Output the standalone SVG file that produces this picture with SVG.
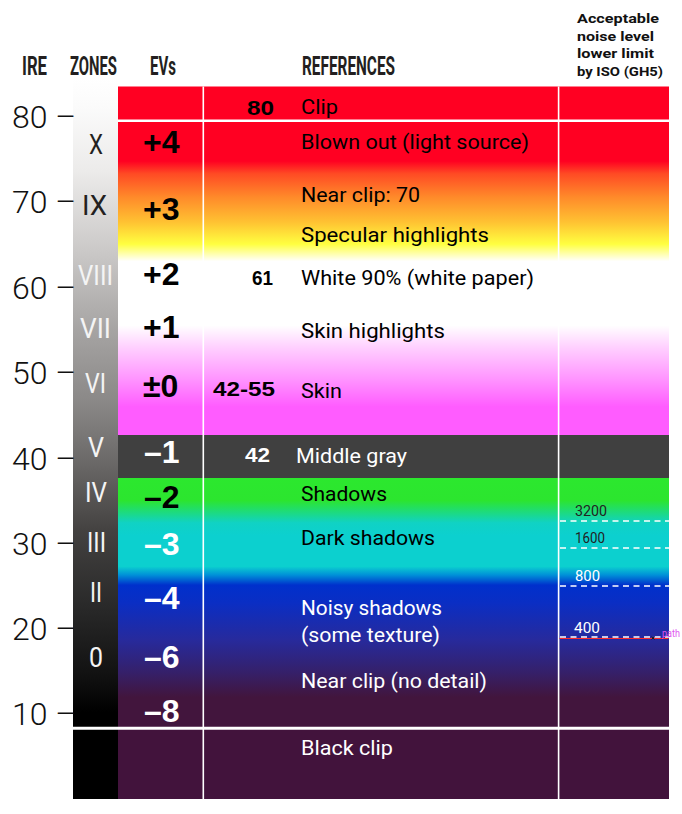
<svg xmlns="http://www.w3.org/2000/svg" width="682" height="814" viewBox="0 0 682 814">
<style>
.hdr{font-family:Roboto,"Liberation Sans",sans-serif;font-weight:700;font-size:26px;fill:#231f20}
.iso-h{font-family:Roboto,"Liberation Sans",sans-serif;font-weight:700;font-size:13.5px;fill:#111}
.ire{font-family:Roboto,"Liberation Sans",sans-serif;font-weight:300;font-size:32px;fill:#111}
.zone{font-family:Roboto,"Liberation Sans",sans-serif;font-size:27px;fill:#f4f4f4}
.zone.dk{fill:#231f20}
.ev{font-family:"Liberation Sans",Arial,sans-serif;font-weight:700;font-size:32px;fill:#000}
.ev.w{fill:#fff}
.num{font-family:"Liberation Sans",Arial,sans-serif;font-weight:700;font-size:21px;fill:#000}
.num.w{fill:#fff}
.ref{font-family:Roboto,"Liberation Sans",sans-serif;font-size:20px;fill:#000}
.ref.w{fill:#fff}
.iso{font-family:Roboto,"Liberation Sans",sans-serif;font-size:14.5px;fill:#222}
.iso.w{fill:#fff}
.sep{stroke:#fff;fill:none}
.dash{stroke:#fff;stroke-width:1.5;stroke-dasharray:6 4.5;fill:none}
</style>
<defs>
<linearGradient id="gZones" gradientUnits="userSpaceOnUse" x1="0" y1="77" x2="0" y2="799">
<stop offset="0" stop-color="#ffffff"/>
<stop offset="0.04" stop-color="#fbfbfb"/>
<stop offset="0.13" stop-color="#ecebea"/>
<stop offset="0.24" stop-color="#cbc9c8"/>
<stop offset="0.35" stop-color="#a6a4a3"/>
<stop offset="0.45" stop-color="#8a8887"/>
<stop offset="0.53" stop-color="#6c6a69"/>
<stop offset="0.63" stop-color="#434140"/>
<stop offset="0.73" stop-color="#2a2a2a"/>
<stop offset="0.83" stop-color="#111111"/>
<stop offset="0.88" stop-color="#000000"/>
<stop offset="1" stop-color="#000000"/>
</linearGradient>
<linearGradient id="gTop" gradientUnits="userSpaceOnUse" x1="0" y1="122" x2="0" y2="435">
<stop offset="0" stop-color="#ff0022"/>
<stop offset="0.125" stop-color="#ff0022"/>
<stop offset="0.165" stop-color="#ff4a24"/>
<stop offset="0.24" stop-color="#ff8a2a"/>
<stop offset="0.32" stop-color="#ffc232"/>
<stop offset="0.39" stop-color="#ffff40"/>
<stop offset="0.445" stop-color="#ffffff"/>
<stop offset="0.65" stop-color="#ffffff"/>
<stop offset="0.72" stop-color="#ffd0ff"/>
<stop offset="0.82" stop-color="#ff95ff"/>
<stop offset="0.91" stop-color="#ff5cff"/>
<stop offset="1" stop-color="#ff5cff"/>
</linearGradient>
<linearGradient id="gLow" gradientUnits="userSpaceOnUse" x1="0" y1="478" x2="0" y2="727">
<stop offset="0" stop-color="#2ce82e"/>
<stop offset="0.09" stop-color="#2ce52f"/>
<stop offset="0.18" stop-color="#10d2c4"/>
<stop offset="0.23" stop-color="#0cd0cf"/>
<stop offset="0.355" stop-color="#0cd0cf"/>
<stop offset="0.39" stop-color="#0090d8"/>
<stop offset="0.43" stop-color="#0030cc"/>
<stop offset="0.5" stop-color="#0a2ec4"/>
<stop offset="0.65" stop-color="#272a9c"/>
<stop offset="0.78" stop-color="#35206a"/>
<stop offset="0.88" stop-color="#42153d"/>
<stop offset="1" stop-color="#42153d"/>
</linearGradient>
</defs>

<g id="header">
<text class="hdr" x="22" y="75" textLength="25" lengthAdjust="spacingAndGlyphs">IRE</text>
<text class="hdr" x="70" y="75" textLength="47" lengthAdjust="spacingAndGlyphs">ZONES</text>
<text class="hdr" x="150" y="75" textLength="26" lengthAdjust="spacingAndGlyphs">EVs</text>
<text class="hdr" x="302" y="75" textLength="93" lengthAdjust="spacingAndGlyphs">REFERENCES</text>
<text class="iso-h" x="577" y="23" textLength="82" lengthAdjust="spacingAndGlyphs">Acceptable</text>
<text class="iso-h" x="577" y="41" textLength="77" lengthAdjust="spacingAndGlyphs">noise level</text>
<text class="iso-h" x="577" y="58" textLength="77" lengthAdjust="spacingAndGlyphs">lower limit</text>
<text class="iso-h" x="577" y="76" textLength="86" lengthAdjust="spacingAndGlyphs">by ISO (GH5)</text>
</g>

<g id="bands">
<rect x="73" y="77" width="45" height="722" fill="url(#gZones)"/>
<rect x="118" y="86.5" width="551" height="33.5" fill="#ff0022"/>
<rect x="118" y="122" width="551" height="313" fill="url(#gTop)"/>
<rect x="118" y="435" width="551" height="43" fill="#404040"/>
<rect x="118" y="478" width="551" height="250" fill="url(#gLow)"/>
<rect x="118" y="728" width="551" height="71" fill="#42133c"/>
</g>

<g id="separators">
<line class="sep" x1="118" y1="120.8" x2="669" y2="120.8" stroke-width="2.6"/>
<line class="sep" x1="73" y1="728.3" x2="669" y2="728.3" stroke-width="3"/>
<line class="sep" x1="203.3" y1="86.5" x2="203.3" y2="799" stroke-width="1.6"/>
<line class="sep" x1="558.6" y1="86.5" x2="558.6" y2="799" stroke-width="1.6"/>
</g>

<g id="ire-scale">
<text class="ire" x="12" y="128">80 –</text>
<text class="ire" x="12" y="213.3">70 –</text>
<text class="ire" x="12" y="298.6">60 –</text>
<text class="ire" x="12" y="384">50 –</text>
<text class="ire" x="12" y="469.5">40 –</text>
<text class="ire" x="12" y="554.7">30 –</text>
<text class="ire" x="12" y="640">20 –</text>
<text class="ire" x="12" y="725">10 –</text>
</g>

<g id="zones">
<text class="zone dk" x="89" y="154" textLength="14" lengthAdjust="spacingAndGlyphs">X</text>
<text class="zone dk" x="82" y="215" textLength="25" lengthAdjust="spacingAndGlyphs">IX</text>
<text class="zone" x="78" y="285" textLength="35" lengthAdjust="spacingAndGlyphs">VIII</text>
<text class="zone" x="80" y="338" textLength="31" lengthAdjust="spacingAndGlyphs">VII</text>
<text class="zone" x="85" y="393" textLength="21" lengthAdjust="spacingAndGlyphs">VI</text>
<text class="zone" x="88" y="457" textLength="16" lengthAdjust="spacingAndGlyphs">V</text>
<text class="zone" x="85" y="502" textLength="22" lengthAdjust="spacingAndGlyphs">IV</text>
<text class="zone" x="87" y="552" textLength="19" lengthAdjust="spacingAndGlyphs">III</text>
<text class="zone" x="90" y="602" textLength="12" lengthAdjust="spacingAndGlyphs">II</text>
<text class="zone" x="89" y="667" textLength="14" lengthAdjust="spacingAndGlyphs">0</text>
</g>

<g id="evs">
<text class="ev" x="143" y="153">+4</text>
<text class="ev" x="143" y="220">+3</text>
<text class="ev" x="143" y="285">+2</text>
<text class="ev" x="143" y="338">+1</text>
<text class="ev" x="143" y="397">±0</text>
<text class="ev w" x="144" y="463">–1</text>
<text class="ev" x="144" y="508">–2</text>
<text class="ev w" x="144" y="555">–3</text>
<text class="ev w" x="144" y="609">–4</text>
<text class="ev w" x="144" y="668">–6</text>
<text class="ev w" x="144" y="722">–8</text>
</g>

<g id="ire-values">
<text class="num" x="247" y="115" textLength="27" lengthAdjust="spacingAndGlyphs">80</text>
<text class="num" x="252" y="285" textLength="21" lengthAdjust="spacingAndGlyphs">61</text>
<text class="num" x="213" y="396" textLength="62" lengthAdjust="spacingAndGlyphs">42-55</text>
<text class="num w" x="245" y="462" textLength="25" lengthAdjust="spacingAndGlyphs">42</text>
</g>

<g id="references">
<text class="ref" x="301" y="114" textLength="37" lengthAdjust="spacingAndGlyphs">Clip</text>
<text class="ref" x="301" y="149" textLength="228" lengthAdjust="spacingAndGlyphs">Blown out (light source)</text>
<text class="ref" x="301" y="202" textLength="119" lengthAdjust="spacingAndGlyphs">Near clip: 70</text>
<text class="ref" x="301" y="242" textLength="188" lengthAdjust="spacingAndGlyphs">Specular highlights</text>
<text class="ref" x="301" y="285" textLength="233" lengthAdjust="spacingAndGlyphs">White 90% (white paper)</text>
<text class="ref" x="301" y="338" textLength="144" lengthAdjust="spacingAndGlyphs">Skin highlights</text>
<text class="ref" x="301" y="398" textLength="41" lengthAdjust="spacingAndGlyphs">Skin</text>
<text class="ref w" x="296" y="463" textLength="111" lengthAdjust="spacingAndGlyphs">Middle gray</text>
<text class="ref" x="301" y="501" textLength="86" lengthAdjust="spacingAndGlyphs">Shadows</text>
<text class="ref" x="301" y="545" textLength="134" lengthAdjust="spacingAndGlyphs">Dark shadows</text>
<text class="ref w" x="301" y="615" textLength="141" lengthAdjust="spacingAndGlyphs">Noisy shadows</text>
<text class="ref w" x="301" y="642" textLength="139" lengthAdjust="spacingAndGlyphs">(some texture)</text>
<text class="ref w" x="301" y="688" textLength="186" lengthAdjust="spacingAndGlyphs">Near clip (no detail)</text>
<text class="ref w" x="301" y="755" textLength="92" lengthAdjust="spacingAndGlyphs">Black clip</text>
</g>

<g id="iso-limits">
<line x1="559.5" y1="638.5" x2="668.5" y2="638.5" stroke="#ff2a2a" stroke-width="1"/>
<line class="dash" x1="560" y1="521" x2="669" y2="521"/>
<line class="dash" x1="560" y1="548" x2="669" y2="548"/>
<line class="dash" x1="560" y1="586" x2="669" y2="586"/>
<line class="dash" x1="560" y1="637" x2="669" y2="637"/>
<text class="iso" x="575" y="516" textLength="32" lengthAdjust="spacingAndGlyphs">3200</text>
<text class="iso" x="575" y="543" textLength="30" lengthAdjust="spacingAndGlyphs">1600</text>
<text class="iso w" x="575" y="581" textLength="25" lengthAdjust="spacingAndGlyphs">800</text>
<text class="iso w" x="574" y="633" textLength="26" lengthAdjust="spacingAndGlyphs">400</text>
<path d="M651.5,636.5 l3,3 M654.5,636.5 l-3,3" stroke="#222" stroke-width="1" fill="none"/>
<text x="662" y="637" font-family="Roboto,'Liberation Sans',sans-serif" font-size="10" fill="#e055f0" textLength="18" lengthAdjust="spacingAndGlyphs">path</text>
</g>
</svg>
